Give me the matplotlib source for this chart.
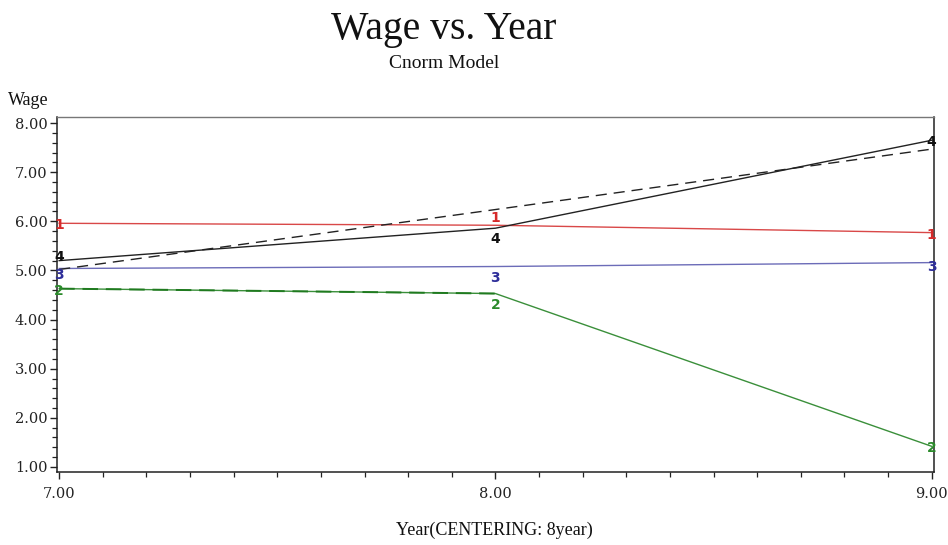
import matplotlib
matplotlib.use("Agg")
import matplotlib.pyplot as plt
from matplotlib.ticker import MultipleLocator, FormatStrFormatter

# Data
years = [7.0, 8.0, 9.0]
wage_1 = [5.96, 5.92, 5.77]
wage_2 = [4.63, 4.53, 1.42]
wage_3 = [5.04, 5.08, 5.16]
wage_4 = [5.20, 5.86, 7.65]
wage_4_fit = [5.02, 6.24, 7.47]

series_names = ["1", "2", "3", "4"]
series_values = [wage_1, wage_2, wage_3, wage_4]
series_colors = ["#d62a2a", "#2a8a2a", "#2e2e9a", "#111111"]
line_colors = ["#d94848", "#3a8f3a", "#6c6cb8", "#222222"]
# vertical nudge (points) of the first / last symbol of each series
nudge_first = [-1.5, -1.5, -4.5, 2.5]
nudge_last = [-1.5, -1.5, -3.0, -1.0]

serif = ["Liberation Serif", "DejaVu Serif"]
tick_serif = ["DejaVu Serif"]
label_font = ["DejaVu Sans"]

fig = plt.figure(figsize=(9.48, 5.45), dpi=100)
ax = fig.add_axes([0.0601, 0.134, 0.925, 0.651])

for vals, lc in zip(series_values, line_colors):
    ax.plot(years, vals, color=lc, lw=1.0, zorder=2)

# fitted trend for series 4 (dashed)
ax.plot(years, wage_4_fit, color="#222222", lw=1.0, ls=(0, (8, 5)), zorder=2)
# overlapping dashed trace for series 2
ax.plot(years[:2], wage_2[:2], color="#1f7a1f", lw=1.4, ls=(0, (8, 4)), zorder=2)

# point symbols drawn as the series number
for name, vals, c, n0, n1 in zip(series_names, series_values, series_colors,
                                 nudge_first, nudge_last):
    for i, (x, y) in enumerate(zip(years, vals)):
        if i == 1:
            if name == "1":
                dy, va = 0, "bottom"
            else:
                dy, va = -3, "top"
        else:
            dy, va = (n0 if i == 0 else n1), "center"
        ax.annotate(name, (x, y), xytext=(0, dy), textcoords="offset points",
                    ha="center", va=va, color=c, fontsize=10, fontweight="bold",
                    family=label_font, zorder=3, annotation_clip=False)

ax.set_xlim(6.995, 9.005)
ax.set_ylim(0.898, 8.12)

ax.xaxis.set_major_locator(MultipleLocator(1.0))
ax.xaxis.set_minor_locator(MultipleLocator(0.1))
ax.yaxis.set_major_locator(MultipleLocator(1.0))
ax.yaxis.set_minor_locator(MultipleLocator(0.2))
ax.xaxis.set_major_formatter(FormatStrFormatter("%.2f"))
ax.yaxis.set_major_formatter(FormatStrFormatter("%.2f"))

ax.tick_params(which="major", direction="out", length=5, width=1.0, color="#222222",
               labelsize=10.5, pad=2)
ax.tick_params(axis="x", which="major", pad=6)
ax.tick_params(which="minor", direction="out", length=3.5, width=0.9, color="#222222")
for lab in ax.get_xticklabels() + ax.get_yticklabels():
    lab.set_family(tick_serif)
    lab.set_color("#222222")

for side in ["left", "bottom", "right"]:
    ax.spines[side].set_linewidth(1.1)
    ax.spines[side].set_color("#222222")
ax.spines["top"].set_linewidth(1.0)
ax.spines["top"].set_color("#777777")

fig.text(0.468, 0.98, "Wage vs. Year", ha="center", va="top", fontsize=28.5,
         family=serif, color="#111111")
fig.text(0.468, 0.9, "Cnorm Model", ha="center", va="top", fontsize=14,
         family=serif, color="#111111")
fig.text(0.008, 0.815, "Wage", ha="left", va="center", fontsize=13,
         family=serif, color="#111111")
fig.text(0.522, 0.027, "Year(CENTERING: 8year)", ha="center", va="center",
         fontsize=13, family=serif, color="#111111")

fig.savefig("out.png", dpi=100)
